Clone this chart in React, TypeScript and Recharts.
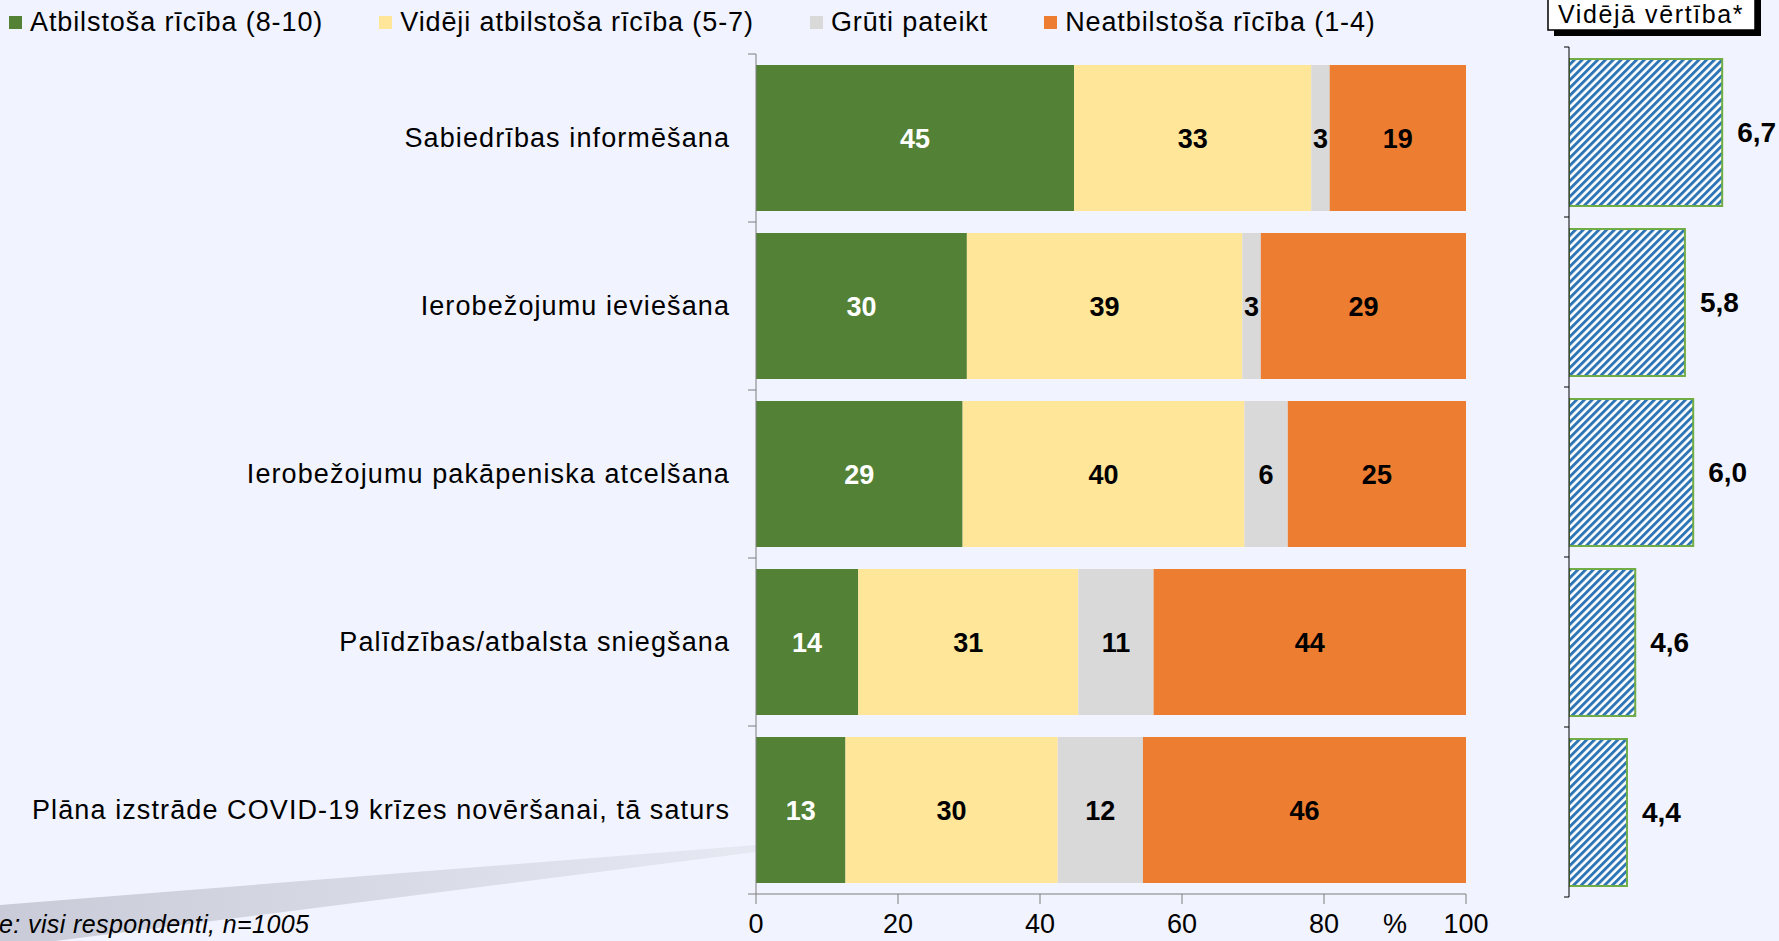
import React from 'react';
import { BarChart, Bar, XAxis, YAxis, LabelList } from 'recharts';

const categories = [
  'Sabiedrības informēšana',
  'Ierobežojumu ieviešana',
  'Ierobežojumu pakāpeniska atcelšana',
  'Palīdzības/atbalsta sniegšana',
  'Plāna izstrāde COVID-19 krīzes novēršanai, tā saturs',
];
const seriesNames = [
  'Atbilstoša rīcība (8-10)',
  'Vidēji atbilstoša rīcība (5-7)',
  'Grūti pateikt',
  'Neatbilstoša rīcība (1-4)',
];
const seriesColors = ['#538135', '#FFE699', '#D9D9D9', '#ED7D31'];
// shares in %, rounded for the labels
const atbilstosa = [44.8, 29.7, 29.1, 14.4, 12.6];
const videji = [33.4, 38.8, 39.7, 31.0, 29.9];
const gruti = [2.6, 2.6, 6.1, 10.6, 12.0];
const neatbilstosa = [19.2, 28.9, 25.1, 44.0, 45.5];
// mean score
const videjaVertiba = [6.7, 5.8, 6.0, 4.6, 4.4];
const xTicks = [0, 20, 40, 60, 80, 100];
const meanDomain = [3, 8];

const FONT = 'Arial, "Liberation Sans", sans-serif';
const ROW_MAIN = 168;
const ROW_RIGHT = 170;

const mainData = categories.map((cat, i) => ({
  cat,
  s0: atbilstosa[i],
  s1: videji[i],
  s2: gruti[i],
  s3: neatbilstosa[i],
}));
const meanData = categories.map((cat, i) => ({ cat, v: videjaVertiba[i] }));

const MainYTick = (props: any) => {
  const { x, y, payload, index } = props;
  return (
    <g>
      <line x1={x - 8} x2={x} y1={y - ROW_MAIN / 2} y2={y - ROW_MAIN / 2} stroke="#7f7f7f" />
      {index === categories.length - 1 && (
        <line x1={x - 8} x2={x} y1={y + ROW_MAIN / 2} y2={y + ROW_MAIN / 2} stroke="#7f7f7f" />
      )}
      <text
        x={x - 26}
        y={y}
        dy="0.35em"
        textAnchor="end"
        fontSize={27}
        letterSpacing={1.1}
        fontFamily={FONT}
        fill="#000"
      >
        {payload.value}
      </text>
    </g>
  );
};

const RightYTick = (props: any) => {
  const { x, y, index } = props;
  return (
    <g>
      <line x1={x - 5} x2={x} y1={y - ROW_RIGHT / 2} y2={y - ROW_RIGHT / 2} stroke="#000" />
      {index === categories.length - 1 && (
        <line x1={x - 5} x2={x} y1={y + ROW_RIGHT / 2} y2={y + ROW_RIGHT / 2} stroke="#000" />
      )}
    </g>
  );
};

const segLabel = (color: string) => ({
  position: 'center' as const,
  fill: color,
  fontSize: 27,
  fontWeight: 700,
  fontFamily: FONT,
  formatter: (v: number) => Math.round(v),
});

export default function App() {
  return (
    <div
      style={{
        position: 'absolute', left: 0, top: 0, width: 1779, height: 941,
        background: '#F1F3FE', overflow: 'hidden', fontFamily: FONT,
      }}
    >
      {/* backdrop: slide decoration, footnote, panel title */}
      <svg width={1779} height={941} style={{ position: 'absolute', left: 0, top: 0 }}>
        <defs>
          <linearGradient id="wedge" x1="0" y1="0" x2="1" y2="0">
            <stop offset="0%" stopColor="#C9CCD8" />
            <stop offset="100%" stopColor="#E6E8F2" />
          </linearGradient>
        </defs>
        <polygon points="0,905 756,845 756,852 0,948" fill="url(#wedge)" />
        <text x={-1} y={933} fontSize={25} letterSpacing={0.4} fontStyle="italic" fontFamily={FONT} fill="#000">
          e: visi respondenti, n=1005
        </text>
        <rect x={1554} y={-10} width={207} height={46} fill="#000" />
        <rect x={1548} y={-14} width={207} height={44} fill="#fff" stroke="#000" strokeWidth={1.5} />
        <text x={1651} y={23} textAnchor="middle" fontSize={25} letterSpacing={1.6} fontFamily={FONT} fill="#000">
          Vidējā vērtība*
        </text>
      </svg>

      {/* legend */}
      <div
        style={{
          position: 'absolute', left: 9, top: 7, display: 'flex', gap: 56,
          fontSize: 27, letterSpacing: 0.9, color: '#000',
        }}
      >
        {seriesNames.map((n, i) => (
          <div key={n} style={{ display: 'flex', alignItems: 'center' }}>
            <span style={{ width: 13, height: 13, background: seriesColors[i], marginRight: 8 }} />
            <span>{n}</span>
          </div>
        ))}
      </div>

      {/* main stacked bars */}
      <div style={{ position: 'absolute', left: 0, top: 0 }}>
        <BarChart
          width={1500}
          height={941}
          data={mainData}
          layout="vertical"
          margin={{ top: 54, right: 34, bottom: 0, left: 0 }}
        >
          <XAxis
            type="number"
            domain={[0, 100]}
            ticks={xTicks}
            allowDataOverflow
            height={47}
            tickSize={10}
            tickMargin={10}
            stroke="#7f7f7f"
            tick={{ fontSize: 27, fill: '#000', fontFamily: FONT }}
            label={{
              content: (p: any) => {
                const vb = p.viewBox;
                return (
                  <text x={vb.x + vb.width * 0.9} y={vb.y + 30} dy="0.35em" textAnchor="middle" fontSize={27} fontFamily={FONT} fill="#000">
                    %
                  </text>
                );
              },
            }}
          />
          <YAxis
            type="category"
            dataKey="cat"
            width={756}
            tickSize={0}
            tickMargin={0}
            tickLine={false}
            stroke="#7f7f7f"
            tick={<MainYTick />}
          />
          {['s0', 's1', 's2', 's3'].map((k, i) => (
            <Bar
              key={k}
              dataKey={k}
              name={seriesNames[i]}
              stackId="a"
              fill={seriesColors[i]}
              barSize={146}
              isAnimationActive={false}
            >
              <LabelList dataKey={k} {...segLabel(i === 0 ? '#fff' : '#000')} />
            </Bar>
          ))}
        </BarChart>
      </div>

      {/* mean score panel */}
      <div style={{ position: 'absolute', left: 1500, top: 0 }}>
        <BarChart
          width={279}
          height={941}
          data={meanData}
          layout="vertical"
          margin={{ top: 47, right: 3, bottom: 44, left: 0 }}
        >
          <defs>
            <pattern id="hatch" patternUnits="userSpaceOnUse" width={5.5} height={5.5} patternTransform="rotate(45)">
              <rect width={5.5} height={5.5} fill="#fff" />
              <rect width={2.9} height={5.5} fill="#2E75B6" />
            </pattern>
          </defs>
          <XAxis type="number" domain={meanDomain} hide allowDataOverflow />
          <YAxis
            type="category"
            dataKey="cat"
            width={69}
            tickSize={0}
            tickMargin={0}
            tickLine={false}
            stroke="#000"
            tick={<RightYTick />}
          />
          <Bar
            dataKey="v"
            fill="url(#hatch)"
            stroke="#70AD47"
            strokeWidth={2}
            barSize={147}
            isAnimationActive={false}
          >
            <LabelList
              dataKey="v"
              position="right"
              offset={15}
              fill="#000"
              fontSize={28}
              fontWeight={700}
              fontFamily={FONT}
              formatter={(v: number) => v.toFixed(1).replace('.', ',')}
            />
          </Bar>
        </BarChart>
      </div>
    </div>
  );
}
